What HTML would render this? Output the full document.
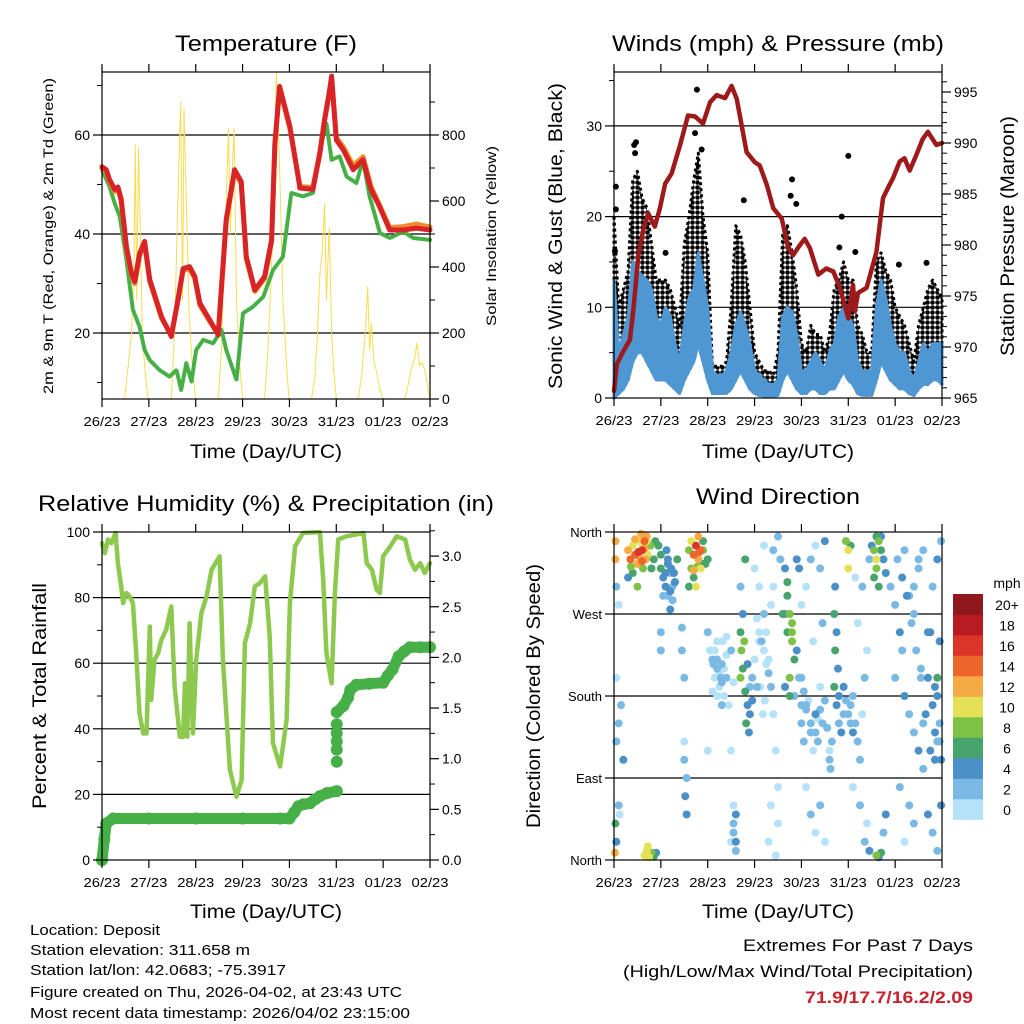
<!DOCTYPE html>
<html><head><meta charset="utf-8"><style>
html,body{margin:0;padding:0;background:#fff;}
svg{display:block;font-family:"Liberation Sans",Arial,sans-serif;}
</style></head><body>
<svg id="root" width="1024" height="1024" viewBox="0 0 1024 1024" xmlns="http://www.w3.org/2000/svg">
<g font-size="22" text-anchor="middle" fill="#000">
<text x="266" y="51" textLength="182" lengthAdjust="spacingAndGlyphs">Temperature (F)</text>
<text x="778" y="51" textLength="332" lengthAdjust="spacingAndGlyphs">Winds (mph) &amp; Pressure (mb)</text>
<text x="266" y="511" textLength="456" lengthAdjust="spacingAndGlyphs">Relative Humidity (%) &amp; Precipitation (in)</text>
<text x="778" y="504" textLength="164" lengthAdjust="spacingAndGlyphs">Wind Direction</text>
</g>
<g font-size="19" text-anchor="middle">
<text x="266" y="458" textLength="152" lengthAdjust="spacingAndGlyphs">Time (Day/UTC)</text>
<text x="778" y="458" textLength="152" lengthAdjust="spacingAndGlyphs">Time (Day/UTC)</text>
<text x="266" y="918" textLength="152" lengthAdjust="spacingAndGlyphs">Time (Day/UTC)</text>
<text x="778" y="918" textLength="152" lengthAdjust="spacingAndGlyphs">Time (Day/UTC)</text>
<text font-size="14" transform="translate(53,236) rotate(-90)" textLength="316" lengthAdjust="spacingAndGlyphs">2m &amp; 9m T (Red, Orange) &amp; 2m Td (Green)</text>
<text font-size="14" transform="translate(496,236) rotate(-90)" textLength="180" lengthAdjust="spacingAndGlyphs">Solar Insolation (Yellow)</text>
<text transform="translate(562,236) rotate(-90)" textLength="306" lengthAdjust="spacingAndGlyphs">Sonic Wind &amp; Gust (Blue, Black)</text>
<text transform="translate(1014,236) rotate(-90)" textLength="240" lengthAdjust="spacingAndGlyphs">Station Pressure (Maroon)</text>
<text transform="translate(46,696) rotate(-90)" textLength="226" lengthAdjust="spacingAndGlyphs">Percent &amp; Total Rainfall</text>
<text transform="translate(540,696) rotate(-90)" textLength="264" lengthAdjust="spacingAndGlyphs">Direction (Colored By Speed)</text>
</g>
<g font-size="15">
<text x="30" y="935" textLength="130" lengthAdjust="spacingAndGlyphs">Location: Deposit</text>
<text x="30" y="955" textLength="220" lengthAdjust="spacingAndGlyphs">Station elevation: 311.658 m</text>
<text x="30" y="975" textLength="256" lengthAdjust="spacingAndGlyphs">Station lat/lon: 42.0683; -75.3917</text>
<text x="30" y="997" textLength="372" lengthAdjust="spacingAndGlyphs">Figure created on Thu, 2026-04-02, at 23:43 UTC</text>
<text x="30" y="1018" textLength="380" lengthAdjust="spacingAndGlyphs">Most recent data timestamp: 2026/04/02 23:15:00</text>
</g>
<g font-size="17" text-anchor="end">
<text x="973" y="951" textLength="230" lengthAdjust="spacingAndGlyphs">Extremes For Past 7 Days</text>
<text x="973" y="977" textLength="350" lengthAdjust="spacingAndGlyphs">(High/Low/Max Wind/Total Precipitation)</text>
<text x="973" y="1003" fill="#c8232c" font-weight="bold" textLength="168" lengthAdjust="spacingAndGlyphs">71.9/17.7/16.2/2.09</text>
</g>
</svg>
<script>
// ---------------- DATA ----------------
const dayLabels=["26/23","27/23","28/23","29/23","30/23","31/23","01/23","02/23"];
const tempTicks=[20,40,60];
const solarTicks=[0,200,400,600,800];
const windTicks=[0,10,20,30];
const presTicks=[965,970,975,980,985,990,995];
const rhTicks=[0,20,40,60,80,100];
const pcpTicks=[0.0,0.5,1.0,1.5,2.0,2.5,3.0];
const dirLabels=["North","East","South","West","North"];
const speedBins=["0","2","4","6","8","10","12","14","16","18","20+"];
const speedColors=["#b5e2f8","#7ab9e4","#4a8fc7","#47a46c","#7dc247","#e5e157","#f6aa45","#ee652b","#dd3429","#b81c22","#8e181b"];

const tDays=[0,0.09,0.16,0.27,0.34,0.41,0.52,0.63,0.7,0.8,0.91,1.02,1.09,1.27,1.48,1.62,1.73,1.87,1.98,2.09,2.3,2.48,2.65,2.83,2.97,3.08,3.26,3.47,3.62,3.69,3.79,3.9,4.01,4.22,4.22,4.5,4.65,4.75,4.85,4.9,5.0,5.15,5.36,5.57,5.74,5.92,6.14,6.43,6.71,7.0];
const tRed=[53.6,53,51,49,49.5,47,37.5,32,30.4,36,38.5,30.7,28.7,23.3,19.3,26.7,33,33.4,31.4,26,22.6,19.6,42.9,53,50.6,35.4,28.7,31.4,38.8,58.4,69.8,65.8,61.7,49.6,49.3,49,56.3,63,68.5,71.9,59,57,53,55,49,45.6,40.8,40.8,41.2,40.8];
const tOrange=[53.2,52.6,50.6,48.6,49.2,46.6,37,31.6,30,35.6,38,30.3,28.3,23,19.6,26.4,32.6,33,31,25.6,22.3,19.9,42.5,52.6,50.2,35,28.4,31,38.4,58,69.4,65.4,61.3,50,49.6,49.4,56.6,63.3,68.8,71.4,59.5,57.6,53.8,55.6,49.6,45.9,41.3,41.5,42,41.4];
const tdDays=[0,0.16,0.27,0.38,0.52,0.66,0.8,0.91,1.02,1.23,1.44,1.59,1.69,1.8,1.91,2.01,2.16,2.37,2.55,2.65,2.87,3.01,3.22,3.44,3.65,3.86,4.04,4.29,4.5,4.65,4.79,4.9,5.07,5.22,5.43,5.57,5.71,5.93,6.14,6.43,6.64,7.0];
const tdVals=[53,49.6,46.2,43.5,34.8,24.7,21.3,16.6,14.5,12.5,11.2,12.5,8.5,13.9,10.2,16.6,18.6,17.9,20.6,16.6,10.5,24,25.3,27.3,32.7,35.4,48.3,47.6,48.3,57,62.4,55,55.7,51.6,50.3,55,47.6,40.2,39.2,40.5,39.2,38.8];
const sDays=[0.48,0.56,0.63,0.68,0.71,0.74,0.78,0.82,0.86,0.91,0.98,1.48,1.55,1.6,1.64,1.68,1.72,1.75,1.8,1.86,1.93,2.0,2.48,2.55,2.6,2.65,2.7,2.74,2.78,2.82,2.87,2.94,3.0,3.47,3.54,3.62,3.67,3.72,3.76,3.81,3.86,3.94,3.99,4.47,4.54,4.6,4.65,4.7,4.75,4.79,4.85,4.9,4.95,5.0,5.47,5.54,5.62,5.67,5.71,5.75,5.8,5.86,5.93,6.0,6.46,6.53,6.6,6.67,6.72,6.78,6.83,6.89,6.96,7.0];
const sVals=[0,100,200,400,770,300,760,500,200,100,0,0,200,500,700,900,300,880,600,250,100,0,0,150,400,600,820,500,700,820,300,100,0,0,150,400,700,990,850,600,300,100,0,0,60,200,380,450,590,300,520,200,80,0,0,70,200,340,150,230,120,80,30,0,0,40,90,120,170,100,110,90,30,0];

const wDays=[0,0.1,0.2,0.3,0.4,0.5,0.6,0.7,0.8,0.9,1.0,1.1,1.2,1.3,1.4,1.5,1.6,1.7,1.8,1.9,2.0,2.1,2.2,2.3,2.4,2.5,2.6,2.7,2.8,2.9,3.0,3.1,3.2,3.3,3.4,3.5,3.6,3.7,3.8,3.9,4.0,4.1,4.2,4.3,4.4,4.5,4.6,4.7,4.8,4.9,5.0,5.1,5.2,5.3,5.4,5.5,5.6,5.7,5.8,5.9,6.0,6.1,6.2,6.3,6.4,6.5,6.6,6.7,6.8,6.9,7.0];
const windHi=[13,5,7,9,15,14,13.5,13,12,9,8,10,9,6,4,8,11,12,16,13,10,3,2.5,2.5,3,5,8,9.5,8,6,3,2.5,2,1.5,1.5,2,9,10,9.5,7,3,3,4,5,4,3,5,6,9,10,9,8,4,3,3,3,10,13,11,8,6,5,5,3,2,4,6,5,6,6,6];
const windLo=[0,0.5,1,2,4,5,5,4,3,2,2,2,1.5,1,0.5,2,3,4,6,4,2,0.5,0.5,0.5,0.5,1,2,3,2,1,0.5,0.3,0.2,0.2,0.2,0.3,2,3,2,1,0.5,0.5,1,1,0.5,0.5,1,1,2,3,2,1.5,0.5,0.3,0.3,0.3,2,4,3,2,1.5,1,1,0.5,0.3,1,1.5,1.5,2,2,1.5];
const gustHi=[20,10,12,14,24,25,22,21,17,13,13,13,12,10,8,17,20,24,27,20,16,3.5,3.5,3.5,4,10,19,18,15,10,5,4,3,3,2.5,5,18,19,16,12,6,5,8,7,7,5,7,12,13,15,13,13,8,7,5,5,15,16,14,13,10,9,8,6,4,8,10,12,13,12,11];
const gustOutDays=[0.02,0.04,0.04,0.43,0.45,0.47,1.1,1.73,1.77,1.87,2.77,3.77,3.8,3.89,4.81,4.86,5.0,5.15,6.08,6.67];
const gustOutVals=[16.2,20.8,23.3,27.9,27,28.2,16,29.2,34,27.4,21.8,22.3,24.1,21.4,16.6,20,26.7,16.1,14.7,14.9];
const pDays=[0,0.06,0.2,0.34,0.41,0.52,0.63,0.73,0.87,0.98,1.09,1.23,1.41,1.58,1.73,1.9,2.05,2.19,2.37,2.51,2.62,2.83,3.01,3.11,3.26,3.4,3.58,3.72,3.82,3.97,4.07,4.18,4.36,4.53,4.68,4.82,5.0,5.1,5.14,5.21,5.39,5.6,5.74,5.88,5.95,6.1,6.2,6.31,6.45,6.59,6.7,6.88,7.0];
const pVals=[965.7,968.3,969.6,970.7,973.5,979,981.6,983.1,981.8,983.6,986,987,989.8,992.7,992.6,991.9,994,994.7,994.4,995.6,994.3,989.1,988.1,987.8,985.9,983.6,982.6,979.7,979,980,980.6,979.7,977.1,977.7,977.4,975.8,972.8,976.1,973.5,975.3,975.8,979.3,984.6,985.9,986.5,988.2,988.5,987.3,988.8,990.4,991.1,989.8,990];

const rhDays=[0,0.06,0.13,0.2,0.29,0.34,0.41,0.45,0.52,0.59,0.66,0.73,0.8,0.88,0.95,1.02,1.05,1.12,1.2,1.27,1.37,1.48,1.55,1.66,1.73,1.77,1.82,1.87,1.94,2.01,2.12,2.23,2.34,2.51,2.58,2.73,2.87,2.98,3.05,3.16,3.26,3.37,3.48,3.58,3.65,3.8,3.94,4.01,4.12,4.29,4.65,4.72,4.79,4.9,4.97,5.04,5.22,5.58,5.65,5.76,5.86,5.93,6.0,6.15,6.29,6.47,6.57,6.68,6.79,6.89,7.0];
const rhVals=[96.6,93.6,97.7,96.6,99.7,90.5,83.4,78.3,81.4,80.4,78.3,63,44.7,38.6,38.6,71.2,48.8,61,63.1,67.2,70.2,77.3,52.9,37.6,37.6,53.9,37.6,72.2,38.6,61,75.2,80.3,88.5,92.6,61,27.5,19.3,24.4,66.1,72.2,83.4,84.4,86.5,68.2,35.6,28.5,42.7,78.3,95.6,99.7,100,85.5,63.1,53.9,81.4,97.7,98.7,99.7,90.5,88.5,82.4,81.4,92.6,95.6,98.7,97.7,91.6,88.5,90.5,87.5,90.5];
const pcpDays=[0,0.05,0.09,0.24,1.0,2.0,3.0,3.8,4.0,4.1,4.19,4.3,4.44,4.55,4.65,4.8,5.01];
const pcpVals=[0,0.2,0.36,0.41,0.41,0.41,0.41,0.41,0.41,0.47,0.53,0.55,0.56,0.6,0.63,0.66,0.68];
const pcp2Days=[5.01,5.01,5.01,5.01,5.01,5.01,5.15,5.25,5.3,5.43,5.7,6.0,6.1,6.2,6.33,6.45,6.57,6.8,7.0];
const pcp2Vals=[0.97,1.09,1.17,1.25,1.34,1.46,1.52,1.6,1.68,1.73,1.74,1.75,1.82,1.88,2.01,2.06,2.1,2.1,2.1];

const wdDays=[0.3,0.35,0.4,0.45,0.5,0.55,0.6,0.62,0.7,0.72,0.78,0.85,0.4,0.3,0.5,0.58,0.65,0.68,0.8,0.88,0.45,0.52,0.36,0.62,
0.03,0.03,0.05,0.1,0.05,0.1,0.15,0.05,0.2,0.12,0.03,0.02,0.05,0.1,
1.0,1.05,1.1,1.15,1.2,1.25,1.3,1.1,1.2,1.0,0.95,1.35,1.28,1.05,1.15,
1.0,1.0,1.45,1.45,1.5,1.5,1.55,1.52,1.55,
1.6,1.65,1.7,1.75,1.8,1.85,1.9,1.95,1.7,1.6,1.8,1.9,2.0,1.65,1.75,1.85,
0.65,0.7,0.75,0.8,0.85,0.9,0.72,
2.0,2.05,2.1,2.15,2.2,2.25,2.3,2.35,2.4,2.45,2.5,2.55,2.2,2.3,2.4,2.1,1.5,2.0,2.5,2.5,
2.55,2.6,2.6,2.55,2.6,2.55,
2.7,2.72,2.75,2.7,2.8,2.85,2.9,2.82,2.75,2.7,2.8,2.85,2.9,2.95,2.78,2.88,2.95,3.0,3.05,3.1,
3.0,3.1,3.2,3.25,3.3,3.35,3.4,3.45,3.5,3.35,3.3,3.45,3.5,3.2,3.55,3.5,3.4,
3.65,3.7,3.75,3.7,3.8,3.85,3.75,3.65,3.8,3.7,3.65,3.9,3.95,3.85,4.0,3.75,
4.0,4.1,4.2,4.25,4.3,4.35,4.4,4.45,4.5,4.1,4.2,4.3,4.4,4.5,4.1,4.2,4.3,4.4,4.5,4.45,4.25,4.0,4.6,
4.7,4.75,4.72,4.78,4.7,4.75,4.8,4.85,4.9,4.72,4.8,4.65,5.0,5.0,4.95,5.05,
5.05,5.1,5.15,5.2,5.25,5.3,5.35,5.2,5.3,5.1,5.25,5.4,5.35,5.45,5.45,5.4,5.15,
5.55,5.6,5.65,5.6,5.7,5.55,5.6,5.65,5.5,5.75,5.8,5.7,5.6,5.7,5.65,5.75,5.8,
5.9,6.0,6.1,6.0,6.15,6.2,6.3,6.4,6.5,6.6,6.7,6.8,6.9,6.98,6.85,6.95,6.6,6.7,6.8,6.9,6.98,6.3,6.2,6.4,6.1,6.5,6.6,6.8,6.9,6.98,6.3,6.4,6.75,6.95,6.55,6.9,6.85,6.75];
const wdDirs=[340,330,345,335,325,350,340,320,355,335,345,330,315,310,300,358,350,330,320,350,352,338,322,345,
350,330,300,280,200,150,170,130,110,50,40,8,20,60,
320,310,300,290,295,285,305,315,275,335,345,330,315,290,325,
250,230,255,230,200,110,90,70,50,
340,350,335,345,330,320,340,325,310,300,355,350,330,320,300,340,
5,10,3,8,4,8,15,
250,230,220,200,210,190,215,180,200,170,230,195,240,170,245,185,130,120,120,20,
40,20,10,30,50,60,
250,230,210,200,185,170,160,150,270,300,330,215,190,175,240,140,200,220,190,240,
320,300,270,250,220,190,160,120,80,60,20,5,40,345,330,355,340,
320,290,270,250,240,220,200,190,260,305,270,230,200,180,170,180,
150,170,140,120,160,130,190,150,175,300,330,345,320,350,80,50,30,60,20,260,240,280,110,
270,250,230,210,190,170,150,140,160,300,180,130,340,320,350,345,
170,140,150,130,110,160,200,260,300,80,60,40,20,10,330,230,310,
340,330,350,355,340,310,320,300,345,330,315,355,5,8,3,30,50,
300,280,250,200,230,180,160,140,120,150,200,170,130,110,190,150,100,50,30,10,60,60,20,40,80,320,340,300,330,350,290,270,250,240,210,200,110,120];
const wdSpeeds=[12,14,10,15,13,11,16,9,12,10,8,7,6,5,8,12,14,12,6,6,13,17,9,10,
12,13,2,1,1,3,2,2,4,0,7,12,4,2,
6,4,4,3,4,2,3,5,4,7,6,6,4,2,5,
2,2,3,2,2,2,2,4,4,
8,10,14,16,12,10,8,7,6,6,13,6,6,9,11,15,
10,11,10,8,6,4,10,
2,1,2,1,2,1,2,1,2,1,2,1,1,2,1,1,1,0,1,0,
2,4,3,2,4,1,
6,8,6,8,6,4,4,6,4,3,6,5,3,4,8,5,2,1,2,1,
1,1,2,1,1,2,1,1,1,1,0,0,0,1,2,2,3,
4,6,8,6,8,6,8,5,8,6,5,4,3,2,2,6,
2,3,2,1,4,2,1,3,2,1,3,1,2,4,1,3,1,2,0,2,1,0,2,
6,4,6,5,6,4,3,4,3,4,5,2,10,10,8,6,
2,4,3,2,2,1,2,1,2,1,3,1,2,4,2,1,1,
8,10,8,6,6,6,8,6,4,4,4,5,8,6,4,3,4,
3,2,4,3,2,4,3,2,4,3,4,5,3,4,4,2,3,4,2,3,4,2,1,2,3,2,3,3,4,2,2,3,4,4,2,6,5,4];
const wdDaysExtra=[2.15,2.2,2.25,2.3,2.35,2.2,2.28,2.4,2.12,2.32,3.05,3.1,3.15,3.2,3.25,3.3,3.12,3.22,3.18,3.35,3.4,4.0,4.05,4.1,4.15,4.2,4.3,4.05,4.35,4.4,4.55,4.6,4.62,4.9,4.95,5.0,5.05,5.1,1.15,1.2,1.25,1.3,1.22,1.12,0.55,0.6,0.66,0.7,1.7,1.78,1.82,1.9,6.05,6.15,6.25,6.35,6.45,6.55,6.65,6.85,6.95,6.5,6.7,6.9,6.2,6.4,3.6,3.8,3.9,3.95];
const wdDirsExtra=[230,220,205,195,210,180,200,225,215,240,265,250,240,230,215,205,190,175,160,280,300,200,185,165,175,150,140,130,155,165,145,120,100,190,175,160,150,180,330,315,300,305,320,340,332,328,342,350,318,322,338,325,330,310,290,260,230,200,160,140,130,330,250,180,340,300,270,250,330,320];
const wdSpeedsExtra=[1,2,1,2,1,1,2,1,2,1,1,1,2,1,1,2,1,1,0,1,1,2,3,2,1,2,3,2,1,3,2,1,2,4,3,2,3,2,4,3,2,4,5,4,12,15,13,11,12,8,14,7,3,4,4,3,2,3,4,4,3,3,4,4,2,2,6,8,5,4];

// ---------------- DRAWING ----------------
const NS="http://www.w3.org/2000/svg";
const root=document.getElementById('root');
function mk(tag,attrs,parent){const e=document.createElementNS(NS,tag);for(const k in attrs)e.setAttribute(k,attrs[k]);(parent||root).appendChild(e);return e;}
function txt(s,attrs,parent){const e=mk('text',attrs,parent);e.textContent=s;return e;}

function panel(name,x0,x1,y0,y1){
  const g=mk('g',{});
  
  
  return {g,x0,x1,y0,y1,xs:d=>x0+(x1-x0)*d/7};
}
function frame(p,gridYs){
  gridYs.forEach(y=>{const l=mk('line',{x1:p.x0,x2:p.x1,y1:y,y2:y,stroke:'#000','stroke-width':1.2},p.g);
    
    });
}
function border(p){
  const r=mk('rect',{x:p.x0,y:p.y0,width:p.x1-p.x0,height:p.y1-p.y0,fill:'none',stroke:'#000','stroke-width':1.2},p.g);
  
  
  for(let i=0;i<dayLabels.length;i++){
    const x=p.xs(i);
    const t1=mk('line',{x1:x,x2:x,y1:p.y1,y2:p.y1+8,stroke:'#000','stroke-width':1.2},p.g);
    
    
    const t2=mk('line',{x1:x,x2:x,y1:p.y0,y2:p.y0-8,stroke:'#000','stroke-width':1.2},p.g);
    
    
    const lb=txt(dayLabels[i],{x:x,y:p.y1+27,'font-size':13,'text-anchor':'middle',textLength:37,lengthAdjust:'spacingAndGlyphs'},p.g);
    
    
  }
}
function yAxis(p,vals,scale,side,fmt,minor){
  const g=p.g;
  minor.forEach(v=>{const y=scale(v);const x=side==='l'?p.x0:p.x1;const d=side==='l'?-5:5;
    const t=mk('line',{x1:x,x2:x+d,y1:y,y2:y,stroke:'#000','stroke-width':1},g);
    
    });
  vals.forEach(v=>{const y=scale(v);const x=side==='l'?p.x0:p.x1;const d=side==='l'?-9:9;
    const t=mk('line',{x1:x,x2:x+d,y1:y,y2:y,stroke:'#000','stroke-width':1.2},g);
    
    
    const lb=txt(fmt(v),{x:side==='l'?x-12:x+12,y:y+5,'font-size':14,'text-anchor':side==='l'?'end':'start'},g);
    
    });
}
function poly(g,xs,ys,attrs,name){
  const pts=xs.map((x,i)=>x.toFixed(1)+','+ys[i].toFixed(1)).join(' ');
  const e=mk('polyline',Object.assign({points:pts,fill:'none','stroke-linejoin':'round','stroke-linecap':'round'},attrs),g);
  
  
  return e;
}

// ---- Panel 1: Temperature ----
{
const p=panel('temperature-chart',102,430,72,399);
const yT=v=>333-(v-20)*4.95;
const yS=v=>399-v*0.33;
frame(p,tempTicks.map(yT));
poly(p.g,sDays.map(p.xs),sVals.map(yS),{stroke:'#f8dc50','stroke-width':1},'solar-line');
poly(p.g,tdDays.map(p.xs),tdVals.map(yT),{stroke:'#46b046','stroke-width':4,'stroke-dasharray':'3 1.5'},'dewpoint-line');
poly(p.g,tDays.map(p.xs),tOrange.map(yT),{stroke:'#f08a2c','stroke-width':5},'temp-9m-line');
poly(p.g,tDays.map(p.xs),tRed.map(yT),{stroke:'#d82426','stroke-width':5},'temp-2m-line');
border(p);
yAxis(p,tempTicks,yT,'l',v=>String(v),[10,30,50,70]);
yAxis(p,solarTicks,yS,'r',v=>String(v),[100,300,500,700,900]);
}
// ---- Panel 2: Winds ----
{
const p=panel('wind-chart',614,942,72,398);
const yW=v=>398-v*9.07;
const yP=v=>398-(v-965)*10.2;
frame(p,[10,20,30].map(yW));
const defs=mk('defs',{});
const pat=mk('pattern',{id:'dots',width:5,height:5,patternUnits:'userSpaceOnUse'},defs);
mk('circle',{cx:2.5,cy:2.5,r:2.3,fill:'#000'},pat);
const gp=wDays.map((d,i)=>p.xs(d).toFixed(1)+','+yW(gustHi[i]).toFixed(1)).concat(wDays.slice().reverse().map((d,j)=>{const i=wDays.length-1-j;return p.xs(d).toFixed(1)+','+yW(windLo[i]).toFixed(1);})).join(' ');
const ga=mk('polygon',{points:gp,fill:'url(#dots)',stroke:'#000','stroke-width':3,'stroke-dasharray':'3 3','stroke-linejoin':'round'},p.g);


gustOutDays.forEach((d,i)=>{const c=mk('circle',{cx:p.xs(d),cy:yW(gustOutVals[i]),r:3,fill:'#000'},p.g);
  
  });
const bp=wDays.map((d,i)=>p.xs(d).toFixed(1)+','+yW(windHi[i]).toFixed(1)).concat(wDays.slice().reverse().map((d,j)=>{const i=wDays.length-1-j;return p.xs(d).toFixed(1)+','+yW(windLo[i]).toFixed(1);})).join(' ');
const ba=mk('polygon',{points:bp,fill:'#4f97d3',stroke:'#4f97d3','stroke-width':3,'stroke-linejoin':'round'},p.g);


poly(p.g,pDays.map(p.xs),pVals.map(yP),{stroke:'#9e1a1a','stroke-width':4.5},'pressure-line');
border(p);
yAxis(p,windTicks,yW,'l',v=>String(v),[5,15,25,35]);
yAxis(p,presTicks,yP,'r',v=>String(v),[966,967,968,969,971,972,973,974,976,977,978,979,981,982,983,984,986,987,988,989,991,992,993,994,996]);
}
// ---- Panel 3: RH & Precip ----
{
const p=panel('humidity-precip-chart',102,430,532,860);
const yR=v=>860-v*3.28;
const yC=v=>860-v*101.3;
frame(p,[20,40,60,80].map(yR));
poly(p.g,rhDays.map(p.xs),rhVals.map(yR),{stroke:'#8dc84f','stroke-width':4.5},'rh-line');
poly(p.g,pcpDays.map(p.xs),pcpVals.map(yC),{stroke:'#46b046','stroke-width':11},'precip-line-1');
poly(p.g,pcp2Days.slice(5).map(p.xs),pcp2Vals.slice(5).map(yC),{stroke:'#46b046','stroke-width':11},'precip-line-2');
pcpDays.concat(pcp2Days).forEach((d,i)=>{const v=i<pcpDays.length?pcpVals[i]:pcp2Vals[i-pcpDays.length];
  const c=mk('circle',{cx:p.xs(d),cy:yC(v),r:6,fill:'#46b046'},p.g);
  
  });
border(p);
yAxis(p,rhTicks,yR,'l',v=>String(v),[10,30,50,70,90]);
yAxis(p,pcpTicks,yC,'r',v=>v.toFixed(1),[0.25,0.75,1.25,1.75,2.25,2.75,3.25]);
}
// ---- Panel 4: Wind direction ----
{
const p=panel('wind-direction-chart',614,942,532,860);
const yD=v=>860-v*(328/360);
frame(p,[90,180,270].map(yD));
const allDays=wdDays.concat(wdDaysExtra), allDirs=wdDirs.concat(wdDirsExtra), allSpd=wdSpeeds.concat(wdSpeedsExtra);
const order=allDays.map((d,i)=>i).sort((a,b)=>allSpd[a]-allSpd[b]);
order.forEach(i=>{const s=allSpd[i];const b=Math.min(10,Math.floor(s/2));
  const c=mk('circle',{cx:p.xs(allDays[i]),cy:yD(allDirs[i]),r:4,fill:speedColors[b]},p.g);
  
  });
border(p);
dirLabels.forEach((l,i)=>{const y=yD(i*90);
  const t=mk('line',{x1:p.x0,x2:p.x0-9,y1:y,y2:y,stroke:'#000','stroke-width':1.2},p.g);
  
  
  const lb=txt(l,{x:p.x0-12,y:y+5,'font-size':13,'text-anchor':'end'},p.g);
  
  });
const lg=mk('g',{});


txt('mph',{x:1007,y:588,'font-size':14,'text-anchor':'middle'},lg);
speedBins.forEach((s,i)=>{const y=594+(10-i)*20.5;
  const r=mk('rect',{x:953,y:y,width:30,height:20.8,fill:speedColors[i]},lg);
  
  
  const lb=txt(s,{x:1007,y:y+16,'font-size':14,'text-anchor':'middle'},lg);
  
  });
}
</script>
</body></html>
